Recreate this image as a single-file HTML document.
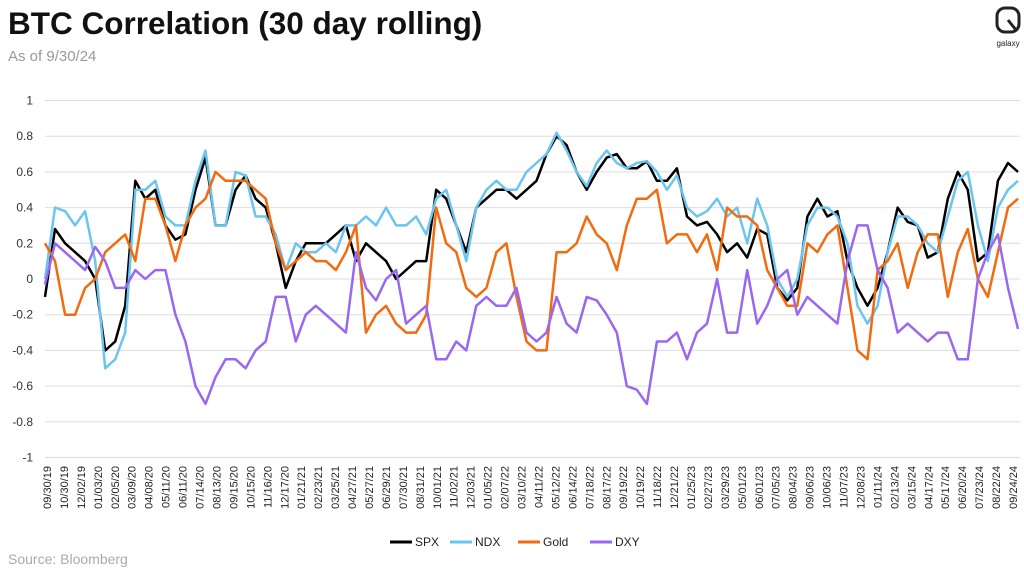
<!DOCTYPE html>
<html><head><meta charset="utf-8"><style>
body{margin:0;background:#fff;font-family:"Liberation Sans",sans-serif;}
svg{display:block}
</style></head><body>
<svg id="c" width="1024" height="574" viewBox="0 0 1024 574">
<text x="8" y="34" font-size="31.5" font-weight="bold" fill="#111">BTC Correlation (30 day rolling)</text>
<text x="8" y="61" font-size="15" fill="#999">As of 9/30/24</text>
<g>
<rect x="997" y="8" width="22" height="24" rx="8" fill="none" stroke="#222" stroke-width="3"/>
<line x1="1008" y1="20" x2="1016" y2="30" stroke="#222" stroke-width="3"/>
<text x="1008" y="46" font-size="8" text-anchor="middle" fill="#222">galaxy</text>
</g>
<g id="grid"></g><g id="ylab"></g><g id="xlab"></g><g id="lines"></g>
<g id="legend"></g>
<text x="8" y="564" font-size="14" fill="#aaa">Source: Bloomberg</text>
</svg>
<script>
const yTicks=[1,0.8,0.6,0.4,0.2,0,-0.2,-0.4,-0.6,-0.8,-1];
const yTickLabels=["1","0.8","0.6","0.4","0.2","0","-0.2","-0.4","-0.6","-0.8","-1"];
const dates=["09/30/19","10/30/19","12/02/19","01/03/20","02/05/20","03/09/20","04/08/20","05/11/20","06/11/20","07/14/20","08/13/20","09/15/20","10/15/20","11/16/20","12/17/20","01/21/21","02/23/21","03/25/21","04/27/21","05/27/21","06/29/21","07/30/21","08/31/21","10/01/21","11/02/21","12/03/21","01/05/22","02/07/22","03/10/22","04/11/22","05/12/22","06/14/22","07/18/22","08/17/22","09/19/22","10/19/22","11/18/22","12/21/22","01/25/23","02/27/23","03/29/23","05/01/23","06/01/23","07/05/23","08/04/23","09/06/23","10/06/23","11/07/23","12/08/23","01/11/24","02/13/24","03/15/24","04/17/24","05/17/24","06/20/24","07/23/24","08/22/24","09/24/24"];
const seriesNames=["SPX","NDX","Gold","DXY"];
const spx=[-0.1,0.28,0.2,0.15,0.1,0.0,-0.4,-0.35,-0.15,0.55,0.45,0.5,0.3,0.22,0.25,0.5,0.68,0.3,0.3,0.5,0.58,0.45,0.4,0.2,-0.05,0.1,0.2,0.2,0.2,0.25,0.3,0.1,0.2,0.15,0.1,0.0,0.05,0.1,0.1,0.5,0.45,0.3,0.15,0.4,0.45,0.5,0.5,0.45,0.5,0.55,0.7,0.8,0.75,0.6,0.5,0.6,0.68,0.7,0.62,0.62,0.66,0.55,0.55,0.62,0.35,0.3,0.32,0.25,0.15,0.2,0.12,0.28,0.25,-0.05,-0.12,-0.05,0.35,0.45,0.35,0.38,0.1,-0.05,-0.15,-0.05,0.15,0.4,0.32,0.3,0.12,0.15,0.45,0.6,0.5,0.1,0.15,0.55,0.65,0.6];
const ndx=[0.0,0.4,0.38,0.3,0.38,0.1,-0.5,-0.45,-0.3,0.5,0.5,0.55,0.35,0.3,0.3,0.55,0.72,0.3,0.3,0.6,0.58,0.35,0.35,0.25,0.05,0.2,0.15,0.15,0.2,0.15,0.3,0.3,0.35,0.3,0.4,0.3,0.3,0.35,0.25,0.45,0.5,0.3,0.1,0.4,0.5,0.55,0.5,0.5,0.6,0.65,0.7,0.82,0.72,0.6,0.52,0.65,0.72,0.65,0.62,0.65,0.66,0.6,0.5,0.58,0.4,0.35,0.38,0.45,0.35,0.4,0.2,0.45,0.3,0.0,-0.1,0.0,0.3,0.4,0.4,0.35,0.2,-0.15,-0.25,-0.15,0.15,0.35,0.35,0.3,0.2,0.15,0.35,0.55,0.6,0.3,0.1,0.4,0.5,0.55];
const gold=[0.2,0.1,-0.2,-0.2,-0.05,0.0,0.15,0.2,0.25,0.1,0.45,0.45,0.3,0.1,0.3,0.4,0.45,0.6,0.55,0.55,0.55,0.5,0.45,0.2,0.05,0.1,0.15,0.1,0.1,0.05,0.15,0.3,-0.3,-0.2,-0.15,-0.25,-0.3,-0.3,-0.2,0.4,0.2,0.15,-0.05,-0.1,-0.05,0.15,0.2,-0.1,-0.35,-0.4,-0.4,0.15,0.15,0.2,0.35,0.25,0.2,0.05,0.3,0.45,0.45,0.5,0.2,0.25,0.25,0.15,0.25,0.05,0.4,0.35,0.35,0.3,0.05,-0.05,-0.15,-0.15,0.2,0.15,0.25,0.3,-0.05,-0.4,-0.45,0.05,0.1,0.2,-0.05,0.15,0.25,0.25,-0.1,0.15,0.28,0.0,-0.1,0.15,0.4,0.45];
const dxy=[-0.03,0.2,0.15,0.1,0.05,0.18,0.1,-0.05,-0.05,0.05,0.0,0.05,0.05,-0.2,-0.35,-0.6,-0.7,-0.55,-0.45,-0.45,-0.5,-0.4,-0.35,-0.1,-0.1,-0.35,-0.2,-0.15,-0.2,-0.25,-0.3,0.15,-0.05,-0.12,0.0,0.05,-0.25,-0.2,-0.15,-0.45,-0.45,-0.35,-0.4,-0.15,-0.1,-0.15,-0.15,-0.05,-0.3,-0.35,-0.3,-0.1,-0.25,-0.3,-0.1,-0.12,-0.2,-0.3,-0.6,-0.62,-0.7,-0.35,-0.35,-0.3,-0.45,-0.3,-0.25,0.0,-0.3,-0.3,0.05,-0.25,-0.15,0.0,0.05,-0.2,-0.1,-0.15,-0.2,-0.25,0.1,0.3,0.3,0.05,-0.05,-0.3,-0.25,-0.3,-0.35,-0.3,-0.3,-0.45,-0.45,0.0,0.15,0.25,-0.05,-0.28];
const NS="http://www.w3.org/2000/svg";
const X0=45,X1=1018,Y0=279,YU=178.5;
function yS(v){return Y0-v*YU;}
function xS(i,n){return X0+i*(X1-X0)/(n-1);}
function mk(t,a,p){const e=document.createElementNS(NS,t);for(const k in a)e.setAttribute(k,a[k]);p.appendChild(e);return e;}
const grid=document.getElementById('grid'),ylab=document.getElementById('ylab'),xlab=document.getElementById('xlab'),lines=document.getElementById('lines'),leg=document.getElementById('legend');
yTicks.forEach((v,i)=>{
 const l=mk('line',{x1:45,x2:1020,y1:yS(v),y2:yS(v),stroke:'#ddd','stroke-width':1},grid);
 
 
 const t=mk('text',{x:33,y:yS(v)+4,'font-size':12,'text-anchor':'end',fill:'#333'},ylab);
 t.textContent=yTickLabels[i];
 
 
});
dates.forEach((d,i)=>{
 const x=47+i*(1013-47)/(dates.length-1);
 const t=mk('text',{x:0,y:0,'font-size':11,'text-anchor':'end',fill:'#222',transform:`translate(${x+4},466) rotate(-90)`},xlab);
 t.textContent=d;
 
 
});
const colors=['#000000','#6cc5ee','#f26b0f','#9a68f0'];
[spx,ndx,gold,dxy].forEach((s,k)=>{
 const pts=s.map((v,i)=>xS(i,s.length).toFixed(1)+','+yS(v).toFixed(1)).join(' ');
 const p=mk('polyline',{points:pts,fill:'none',stroke:colors[k],'stroke-width':2.5,'stroke-linejoin':'round'},lines);
 
 
});
const lx=[390,450,518,590];
seriesNames.forEach((n,k)=>{
 const g=mk('g',{},leg);
 
 
 mk('line',{x1:lx[k],x2:lx[k]+22,y1:542,y2:542,stroke:colors[k],'stroke-width':3},g);
 const t=mk('text',{x:lx[k]+25,y:546,'font-size':12,fill:'#222'},g);
 t.textContent=n;
});
</script>
</body></html>
